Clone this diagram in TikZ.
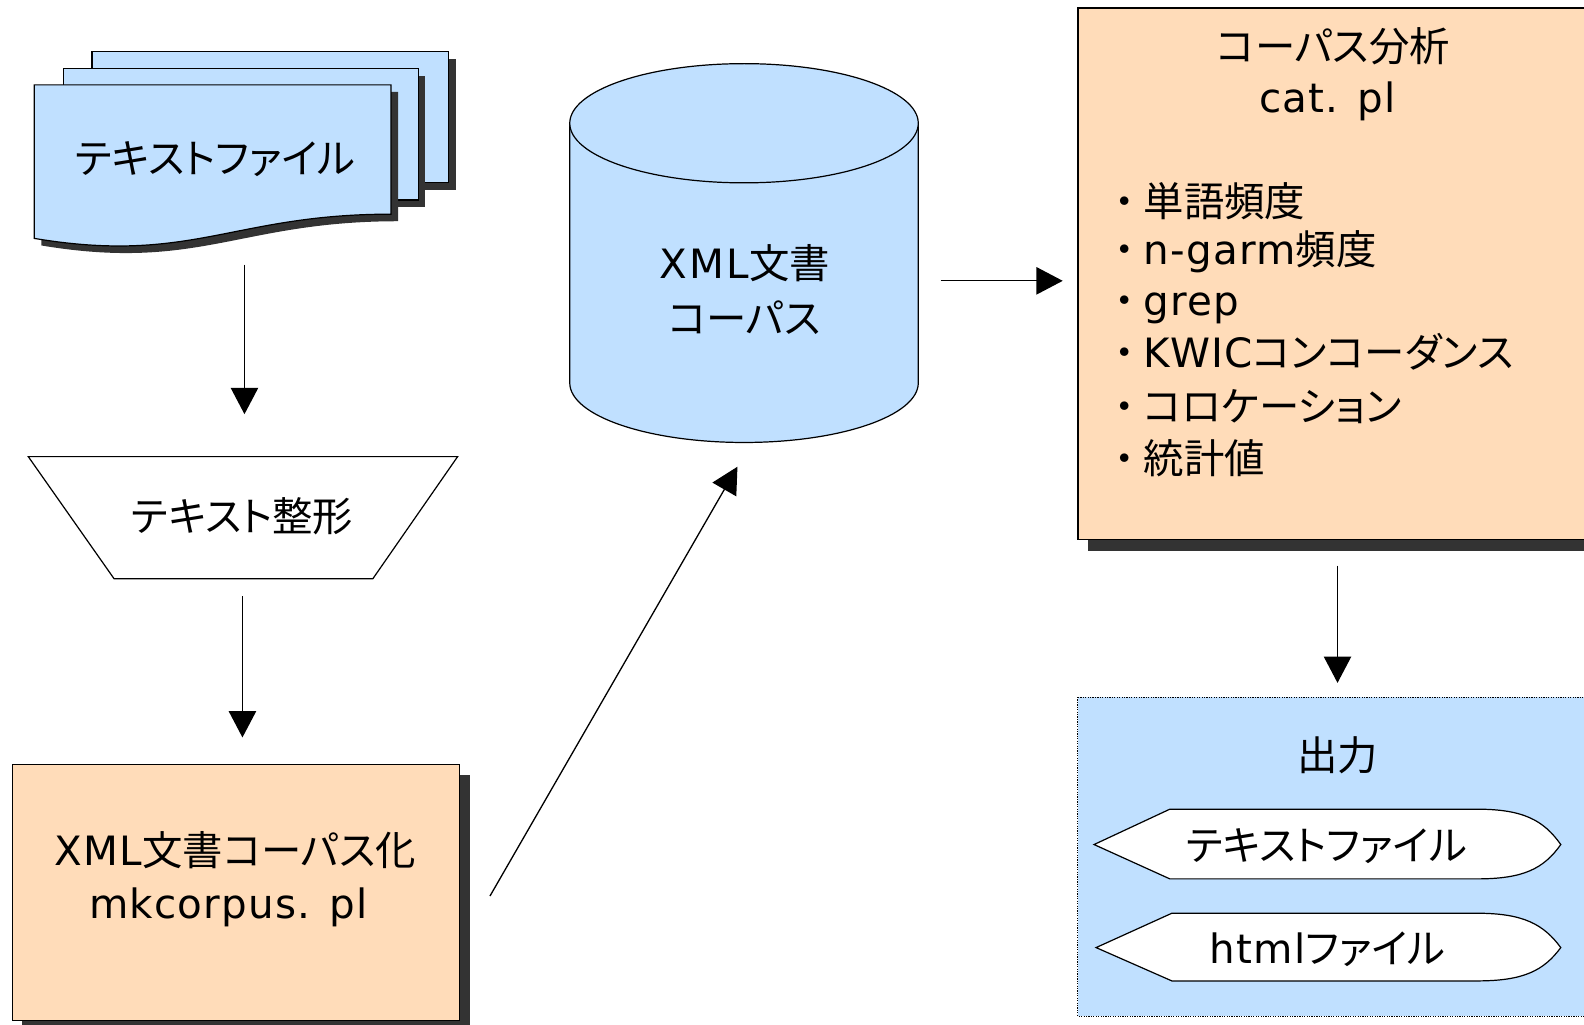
\documentclass[tikz,border=0pt]{standalone}
\usepackage{fontspec}
\setmainfont{Noto Sans CJK JP}[RawFeature=+palt]
\newfontfamily\latn{DejaVu Sans}[LetterSpace=3]
\usetikzlibrary{arrows.meta}
\definecolor{lblue}{RGB}{192,224,255}
\definecolor{peach}{RGB}{255,220,185}
\definecolor{shade}{RGB}{51,51,51}
\newcommand{\bul}{\makebox[38pt][c]{・}}
\begin{document}
\begin{tikzpicture}[x=1pt,y=-1pt,
  lbl/.style={inner sep=0pt, font=\fontsize{40}{44}\selectfont},
  big/.style={inner sep=0pt, font=\fontsize{40}{44}\selectfont},
  item/.style={lbl, anchor=base west, text height=30pt, text depth=8pt},
  conn/.style={line width=1.3pt, -{Triangle[length=26pt,width=27pt]}},
  outl/.style={draw=black, line width=1.2pt},
  shadow/.style={fill=shade}]
\clip (0,0) rectangle (1568,1014);
\fill[white] (0,0) rectangle (1568,1014);

% ---- stacked documents
\fill[shadow] (98,58) rectangle (451,188);
\draw[outl, fill=lblue] (91,51) rectangle (444,181);
\fill[shadow] (70,75) rectangle (421,205);
\draw[outl, fill=lblue] (63,68) rectangle (414,198);
\begin{scope}[shift={(7,7)}]
\fill[shadow] (34,84) -- (387,84) -- (387,212) .. controls (230,212) and (190,262) .. (34,236) -- cycle;
\end{scope}
\draw[outl, fill=lblue] (34,84) -- (387,84) -- (387,212) .. controls (230,212) and (190,262) .. (34,236) -- cycle;
\node[lbl, anchor=base] (docs) at (213,172) {テキストファイル};

% ---- trapezoid
\draw[outl, fill=white] (28,452) -- (453,452) -- (369,573) -- (113,573) -- cycle;
\node[lbl, anchor=base] (seikei) at (240,526) {テキスト整形};

% ---- mkcorpus box
\fill[shadow] (22,767) rectangle (465,1020);
\draw[outl, fill=peach] (12,757) rectangle (455,1010);
\node[lbl, anchor=base] (mk1) at (233,857) {{\latn XML}文書コーパス化};
\node[lbl, anchor=base] (mk2) at (226,909) {\latn mkcorpus. pl};

% ---- cylinder
\draw[outl, fill=lblue] (564,122) -- (564,379)
  .. controls (564,411.6) and (641.2,438) .. (736.5,438)
  .. controls (831.8,438) and (909,411.6) .. (909,379) -- (909,122) -- cycle;
\draw[outl, fill=lblue] (736.5,122) ellipse [x radius=172.5, y radius=59];
\node[lbl, anchor=base] (db1) at (737,276) {{\latn\addfontfeature{LetterSpace=6}XML}文書};
\node[lbl, anchor=base] (db2) at (737,330) {コーパス};

% ---- analysis box
\fill[shadow] (1077,18) rectangle (1600,545);
\draw[outl, fill=peach] (1067,8) rectangle (1600,534);
\node[big, anchor=base] (cat1) at (1320,61) {コーパス分析};
\node[big, anchor=base] (cat2) at (1314,111) {\latn cat. pl};
\node[item] (b1) at (1094,214) {\bul 単語頻度};
\node[item] (b2) at (1094,262) {\bul{\latn n-garm}頻度};
\node[item] (b3) at (1094,312) {\bul{\latn grep}};
\node[item] (b4) at (1094,364) {\bul{\latn KWIC}コンコーダンス};
\node[item] (b5) at (1094,417) {\bul コロケーション};
\node[item] (b6) at (1094,469) {\bul 統計値};

% ---- output group
\draw[fill=lblue, draw=black, line width=0.9pt, dash pattern=on 1.2pt off 1.2pt] (1067,690) rectangle (1600,1006);
\node[big, anchor=base] (out) at (1324,763) {出力};
\draw[outl, fill=white] (1083,836) -- (1158,801) -- (1462,801)
  .. controls (1508,801) and (1528,812) .. (1545,836)
  .. controls (1528,860) and (1508,870) .. (1462,870) -- (1158,870) -- cycle;
\node[lbl, anchor=base] (o1) at (1313,852) {テキストファイル};
\draw[outl, fill=white] (1085,938) -- (1160,904) -- (1462,904)
  .. controls (1508,904) and (1528,915) .. (1545,938)
  .. controls (1528,961) and (1508,971) .. (1462,971) -- (1160,971) -- cycle;
\node[lbl, anchor=base] (o2) at (1314,954) {{\latn html}ファイル};

% ---- connectors
\coordinate (a1s) at (242,262); \coordinate (a1e) at (242,410);
\coordinate (a2s) at (240,590); \coordinate (a2e) at (240,730);
\coordinate (a3s) at (485,887); \coordinate (a3e) at (730,462);
\coordinate (a4s) at (931,278); \coordinate (a4e) at (1052,278);
\coordinate (a5s) at (1324,560); \coordinate (a5e) at (1324,676);
\draw[conn] (a1s) -- (a1e);
\draw[conn] (a2s) -- (a2e);
\draw[conn] (a3s) -- (a3e);
\draw[conn] (a4s) -- (a4e);
\draw[conn] (a5s) -- (a5e);
\end{tikzpicture}
\end{document}
